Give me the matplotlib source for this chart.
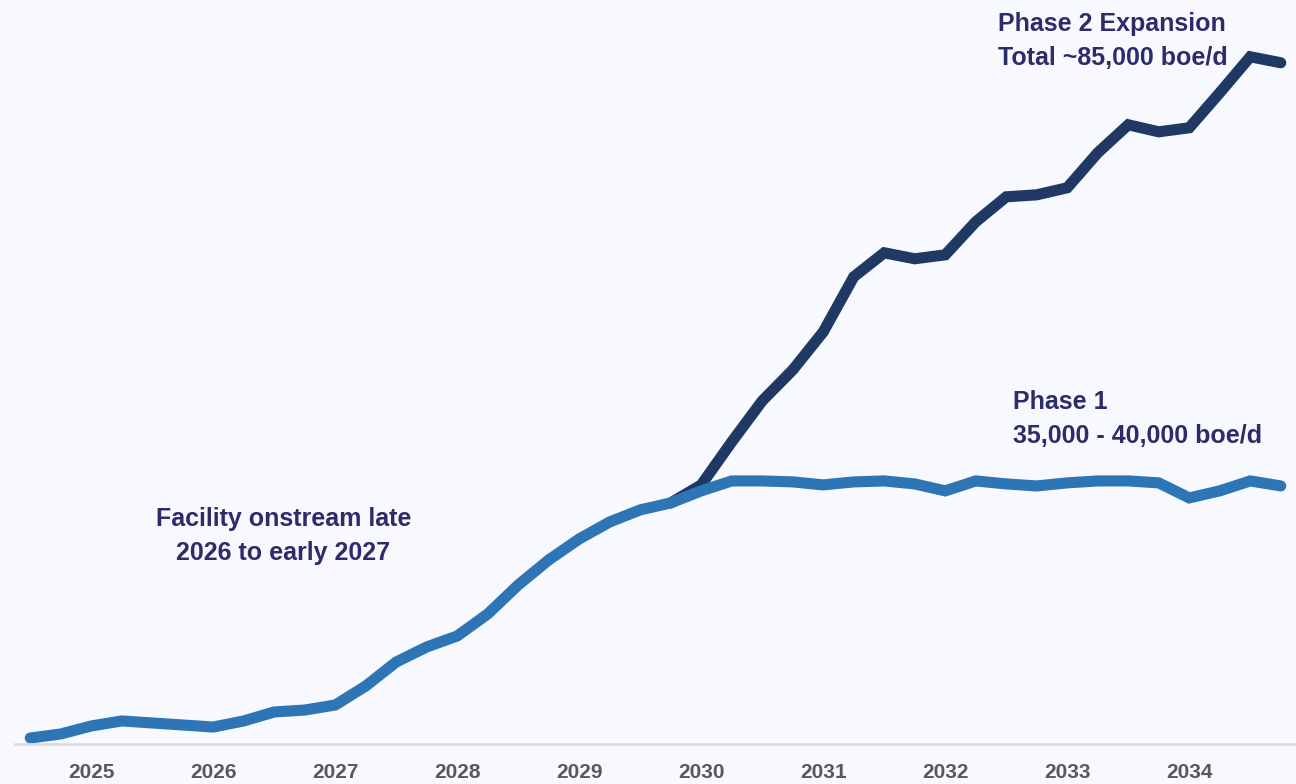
import numpy as np
import matplotlib.pyplot as plt

# Quarterly production forecast (boe/d), Q3 2024 .. Q4 2034
phase1 = [740, 1240, 2230, 2850, 2600, 2350, 2100, 2850, 3960, 4200,
          4820, 7170, 10140, 12000, 13360, 16080, 19670, 22760, 25360, 27460,
          28950, 29810, 31300, 32530, 32530, 32410, 32040, 32410, 32530, 32160,
          31300, 32530, 32160, 31910, 32290, 32530, 32530, 32290, 30430, 31300,
          32530, 31910]
# Phase 2 expansion branches off from quarter index 21
phase2_start = 21
phase2 = [29810, 32040, 37360, 42430, 46260, 50960, 57770, 60740, 60000, 60490,
          64570, 67660, 67910, 68780, 73110, 76570, 75700, 76200, 80530, 84980,
          84240]

years = ['2025', '2026', '2027', '2028', '2029', '2030', '2031', '2032', '2033', '2034']
year_pos = [2, 6, 10, 14, 18, 22, 26, 30, 34, 38]

bg = '#f7f9fe'
blue = '#2e75b6'
navy = '#1f3864'
text_col = '#2b2d6b'
font = ['Liberation Sans', 'DejaVu Sans']

fig = plt.figure(figsize=(12.96, 7.84), dpi=100, facecolor=bg)
ax = fig.add_axes([15 / 1296, 40 / 784, 1281 / 1296, 744 / 784], facecolor=bg)

x1 = np.arange(len(phase1))
x2 = np.arange(phase2_start, phase2_start + len(phase2))

ax.plot(x2, phase2, color=navy, lw=8, solid_capstyle='round', solid_joinstyle='miter')
ax.plot(x1, phase1, color=blue, lw=8, solid_capstyle='round', solid_joinstyle='miter')

ax.set_xlim(-0.5, 41.5)
ax.set_ylim(0, 92000)

for s in ['top', 'right', 'left']:
    ax.spines[s].set_visible(False)
ax.spines['bottom'].set_color('#d9d9d9')
ax.spines['bottom'].set_linewidth(1.8)
ax.set_yticks([])
ax.set_xticks(year_pos)
ax.set_xticklabels(years, family=font, fontweight='bold', fontsize=15, color='#595959')
ax.tick_params(axis='x', length=0, pad=14)

ax.text(31.74, 86960, 'Phase 2 Expansion\nTotal ~85,000 boe/d', ha='left', va='center',
        family=font, fontweight='bold', fontsize=18, color=text_col, linespacing=1.55)
ax.text(32.23, 40200, 'Phase 1\n35,000 - 40,000 boe/d', ha='left', va='center',
        family=font, fontweight='bold', fontsize=18, color=text_col, linespacing=1.55)
ax.text(8.30, 25730, 'Facility onstream late\n2026 to early 2027', ha='center', va='center',
        multialignment='center', family=font, fontweight='bold', fontsize=18,
        color=text_col, linespacing=1.55)

fig.savefig('out.png', dpi=100, facecolor=bg)
